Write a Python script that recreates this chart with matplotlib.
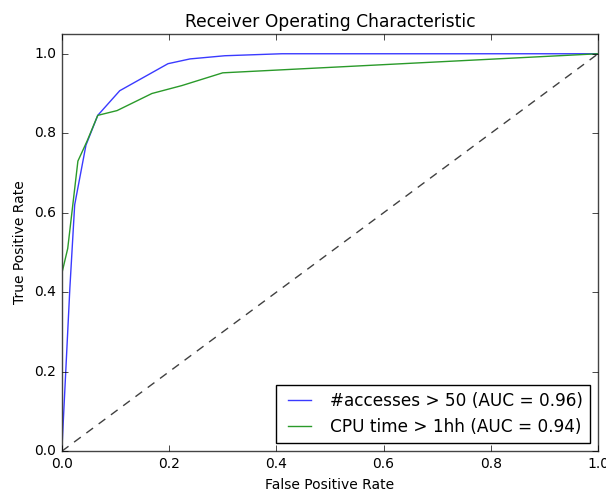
import matplotlib
matplotlib.use("Agg")
import matplotlib.pyplot as plt

# ROC curve points
fpr_access = [0.0, 0.015, 0.024, 0.045, 0.067, 0.108, 0.198, 0.239, 0.304, 0.41, 1.0]
tpr_access = [0.0, 0.41, 0.62, 0.77, 0.845, 0.907, 0.975, 0.987, 0.995, 1.0, 1.0]

fpr_cpu = [0.0, 0.011, 0.03, 0.047, 0.067, 0.103, 0.168, 0.224, 0.30, 1.0]
tpr_cpu = [0.447, 0.51, 0.73, 0.78, 0.845, 0.857, 0.90, 0.92, 0.952, 1.0]

label_access = "#accesses > 50 (AUC = 0.96)"
label_cpu = "CPU time > 1hh (AUC = 0.94)"

plt.style.use("classic")

fig = plt.figure(figsize=(6.06, 4.91), dpi=100, facecolor="white")
ax = fig.add_axes([0.102, 0.081, 0.885, 0.85])

ax.plot(fpr_access, tpr_access, color="#3a3aff", label=label_access)
ax.plot(fpr_cpu, tpr_cpu, color="#2a9a2a", label=label_cpu)
ax.plot([0, 1], [0, 1], "--", color="#404040", dashes=(6, 5))

ax.set_xlim(0.0, 1.0)
ax.set_ylim(0.0, 1.05)
ax.set_title("Receiver Operating Characteristic", fontsize=12.3)
ax.set_xlabel("False Positive Rate", fontsize=10)
ax.set_ylabel("True Positive Rate", fontsize=10)
ax.tick_params(labelsize=10)
for sp in ax.spines.values():
    sp.set_color("#444444")
ax.legend(loc="lower right", fontsize=12.2)

fig.savefig("out.png", dpi=100, facecolor="white")
